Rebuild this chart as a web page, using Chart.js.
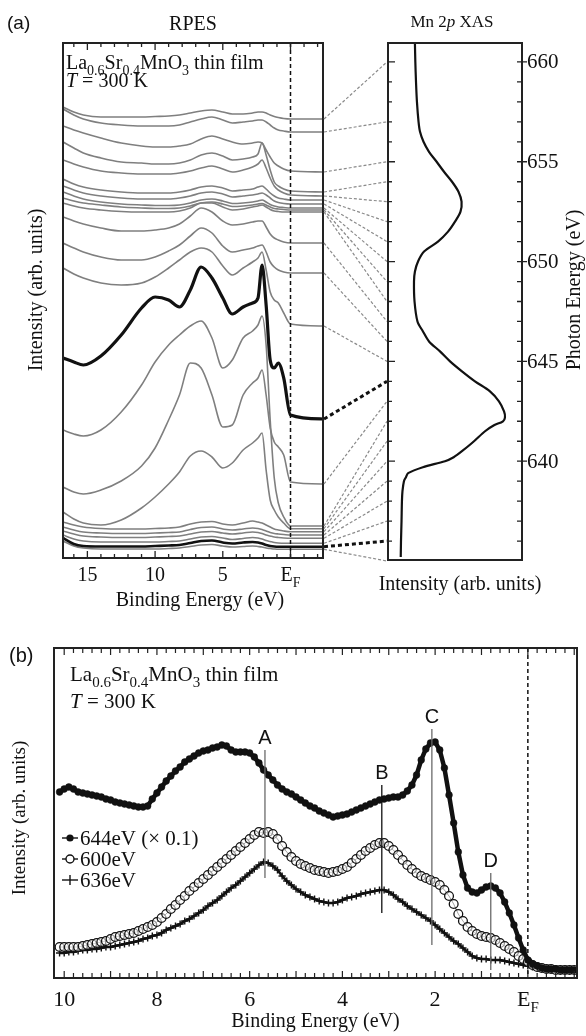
<!DOCTYPE html>
<html>
<head>
<meta charset="utf-8">
<script src="https://cdn.jsdelivr.net/npm/chart.js@4/dist/chart.umd.min.js"></script>
<style>
  html, body { margin: 0; padding: 0; background: #fff; }
  #wrap { position: relative; width: 586px; height: 1036px; }
  canvas { position: absolute; left: 0; }
</style>
</head>
<body>
<div id="wrap">
  <canvas id="rpes" width="586" height="620" style="top:0"></canvas>
  <canvas id="xas" width="586" height="620" style="top:0"></canvas>
  <canvas id="edc" width="586" height="416" style="top:620px"></canvas>
</div>
<script>
// ---------- (a) resonant photoemission spectra, stacked (arb. units) ----------
const bindingGrid = [16.8, 16, 15.3, 14, 12.5, 11, 10, 9, 8.2, 7.4, 6.6, 5.8, 5, 4.3, 3.5, 2.8, 2.4, 2.1, 1.8, 1.5, 1.2, 0.9, 0.5, 0, -2.4];

const rpes660 = [451,446,443,441,441,441,441.5,442,443,445,447,448,446,444,444,445,446,446,445,443,441.5,440.5,439.5,439,439];
const rpes657 = [449,443,439,435,433,432,432,432,433,436,439,441,438,435,436,437,438,438,436,433,430,428,427,426,426];
const rpes655 = [432,428,425,420,415,412,411,411,412,414,419,422,419,416,414,415,416,415,408,401,395,392,389,387,386];
const rpes654 = [416,410,405,400,396,395,394,394,395,398,403,405,402,398,399,401,404,415,403,388,376,372,369,367,366];
const rpes653 = [398,394,391,387,385,384,384,384,385,387,390,392,389,386,388,391,394,398,390,380,372,368,365,363,362];
const rpes652 = [379,374,371,368,366,365,365,365,366,368,371,372,370,367,368,369,371,372,369,365,362,360,359,358,358];
const rpes651 = [372,368,365,362,360,359,359,359,360,362,365,366,364,361,362,363,364,365,363,360,357,355.5,354.5,354,354];
const rpes650 = [366,362,359,356,354,353,352.5,352.5,353,355,358,359,357,354.5,355,356,357,358,356,353.5,352,351,350.5,350,350];
const rpes649 = [360,357,355,353,351,350,349.5,349.5,350,352,355,356,354,351.5,352,353,354,354.5,353,351,349.5,349,348.5,348,348];
const rpes648 = [355,352,350,348,346.5,346,346,346,347,350,355,355,351,348,349,351,352,353,351,348.5,347,346.5,346,346,346];
const rpes647 = [341,337,334,330,327,327,328,330,334,342,350,346,337,333,334,336,337,337,331,324,320,318,316,315,315];
const rpes646 = [315,310,306,301,298,298,301,307,313,322,330,325,312,306,308,310,312,313,306,296,291,288,286,285,285];
const rpes645 = [290,284,280,275,273,275,281,290,298,306,310,306,292,283,290,296,300,306,288,266,258,255,245,234,232];
const rpes644 = [200,196,193,202,223,250,261,258,251,268,291,280,260,244,251,255,260,293,253,198,190,195,180,143,139];
const rpes643 = [71,66,64,68,77,92,110,138,163,195,190,163,131,133,163,175,180,188,163,130,116,111,103,76,74];
const rpes642 = [128,124,122,128,146,173,196,213,223,232,237,220,190,198,220,227,233,242,213,138,80,55,41,32,32];
const rpes641 = [46,39,35,33,38,50,61,74,86,102,107,101,90,95,108,115,120,125,88,58,48,41,35,29.3,29.3];
const rpes640 = [36,33,31,29.5,29,29,29.5,30,31,34,36,36.5,34,33,35,37,36,35,33,31,29,28,27,26.3,26.3];
const rpes639 = [31,28,26,25,24.5,24.5,25,25.5,26,28.5,30.5,31,29,28,29,30,29.5,28.5,27,25.5,24.5,24,23.5,23,23];
const rpes638 = [27,24,22,21,20.5,20.5,21,21.5,22,24,26,26.5,25,24,25,26,25.5,24.5,23,22,21,20.5,20,19.7,19.7];
const rpes637 = [23,19,17,16,16,16,16,16.5,17,19,21,21.5,20,18.5,19.5,20.5,20,19,17.5,16.5,15.5,15,14.7,14.7,14.7];
const rpes636 = [20,14,12,11.5,11.5,11.5,12,12.5,13,15,17,17.5,15.5,14.5,15.5,16,15.5,14.5,13,12,11.5,11.3,11.3,11.3,11.3];
const rpes635 = [17,12,10,9,9,9,9,9.5,10,11.5,13,13.5,12,11,11.5,12,11.5,11,10,9.5,9,8.7,8.7,8.7,8.7];

const photonEnergies = [660, 657, 655, 654, 653, 652, 651, 650, 649, 648, 647, 646, 645, 644, 643, 642, 641, 640, 639, 638, 637, 636, 635];
const rpesSpectra = [rpes660, rpes657, rpes655, rpes654, rpes653, rpes652, rpes651, rpes650, rpes649, rpes648, rpes647, rpes646, rpes645, rpes644, rpes643, rpes642, rpes641, rpes640, rpes639, rpes638, rpes637, rpes636, rpes635];
const highlighted = [644, 636];
const rpesTicks = [15, 10, 5];

// ---------- (a) Mn 2p absorption ----------
const xasEnergy = [660.9, 660, 659, 658, 657, 656.5, 656, 655.5, 655, 654.5, 654, 653.5, 653, 652.5, 652, 651.5, 651, 650.5, 650, 649.5, 649, 648, 647, 646.5, 646, 645.5, 645, 644.5, 644, 643.5, 643, 642.5, 642.2, 642, 641.8, 641.5, 641, 640.5, 640.2, 640, 639.7, 639.4, 639.2, 639, 638.5, 638, 637, 636, 635.2];
const xasIntensity = [20.1, 20.4, 20.9, 21.6, 22.8, 23.9, 26.5, 30.6, 36.3, 41.8, 47.8, 52.6, 54.9, 54.1, 50, 44.8, 37.3, 26.9, 22.4, 20.1, 19.4, 19.8, 22, 26.1, 30.6, 38.8, 46.3, 55.2, 64.9, 76.1, 82.8, 86.6, 87.3, 85.8, 79.1, 72.4, 64.2, 55.2, 49, 42.5, 26, 15, 13.4, 11.9, 10.8, 10.4, 10.1, 9.7, 9.5];
const xasTicks = [640, 645, 650, 655, 660];

// ---------- (b) valence-band spectra at three photon energies ----------
const edcEnergy = [10.1,10.0,9.9,9.8,9.7,9.6,9.5,9.4,9.3,9.2,9.1,9.0,8.9,8.8,8.7,8.6,8.5,8.4,8.3,8.2,8.1,8.0,7.9,7.8,7.7,7.6,7.5,7.4,7.3,7.2,7.1,7.0,6.9,6.8,6.7,6.6,6.5,6.4,6.3,6.2,6.1,6.0,5.9,5.8,5.7,5.6,5.5,5.4,5.3,5.2,5.1,5.0,4.9,4.8,4.7,4.6,4.5,4.4,4.3,4.2,4.1,4.0,3.9,3.8,3.7,3.6,3.5,3.4,3.3,3.2,3.1,3.0,2.9,2.8,2.7,2.6,2.5,2.4,2.3,2.2,2.1,2.0,1.9,1.8,1.7,1.6,1.5,1.4,1.3,1.2,1.1,1.0,0.9,0.8,0.7,0.6,0.5,0.4,0.3,0.2,0.1,0.0,-0.1,-0.2,-0.3,-0.4,-0.5,-0.6,-0.7,-0.8,-0.9,-1.0];
const edc644 = [186,189,191,189,186,185,184,183,182,181,179,178,176,175,174,173,172,171,171,172,179,185,191,197,202,207,211,216,219,222,225,227,228,230,231,233,232,228,226,226,226,225,221,215,208,203,198,193,189,186,184,181,178,175,172,170,167,165,163,161,162,163,164,166,168,170,172,174,176,178,179,180,181,181,183,187,193,203,218,229,235,236,228,210,183,155,126,103,90,86,85,88,91,92,90,85,76,65,53,40,28,18,14,12,10,9,9,9,8,8,8,8];
const edc600 = [31,31,31,31,31,32,33,34,35,36,37,39,41,42,43,44,45,47,49,51,53,56,60,64,69,73,78,82,87,91,95,99,103,107,111,115,119,123,127,131,135,139,143,146,145,146,144,139,132,126,121,117,114,112,110,108,107,106,105,106,107,109,111,115,119,123,127,130,133,135,135,132,128,123,118,113,109,105,102,100,98,96,93,88,82,74,64,57,51,47,44,42,41,40,38,35,32,29,26,22,19,16,13,11,10,9,9,8,8,8,8,8];
const edc636 = [25,25,26,26,27,28,28,29,29,30,31,31,32,33,34,35,36,37,39,40,42,43,45,48,50,52,54,57,59,62,65,68,72,75,78,82,86,90,93,97,101,105,109,113,116,115,112,108,102,97,93,89,86,83,81,79,77,76,75,75,76,78,80,81,82,84,85,86,87,88,88,86,83,79,76,72,69,66,63,60,57,53,49,45,41,37,34,30,26,22,20,19,19,18,18,18,17,16,15,14,13,12,11,10,10,9,9,9,8,8,8,8];
const edcTicks = [10, 8, 6, 4, 2];
const featureNames = ['A', 'B', 'C', 'D'];
const featureEnergies = [5.67, 3.15, 2.07, 0.80];
const featureLow = [100, 65, 33, 8];
const featureHigh = [228, 193, 249, 105];
const featureColors = ['#6a6a6a', '#111', '#6a6a6a', '#6a6a6a'];
const legendLabels = ['644eV (\u00d7 0.1)', '600eV', '636eV'];

// ---------- drawing helpers ----------
const SERIF = '"Liberation Serif", "Times New Roman", serif';
const SANS = '"Liberation Sans", Arial, sans-serif';
const INK = '#111';
const GREY = '#7f7f7f';

function richText(ctx, parts, x, y, size, align) {
  const segs = parts.map(([t, k]) => {
    const sz = k === 's' ? Math.round(size * 0.7) : size;
    const font = (k === 'i' ? 'italic ' : '') + sz + 'px ' + SERIF;
    ctx.font = font;
    return { t, font, w: ctx.measureText(t).width, dy: k === 's' ? size * 0.28 : 0 };
  });
  const total = segs.reduce((s, g) => s + g.w, 0);
  let cx = align === 'center' ? x - total / 2 : x;
  ctx.textAlign = 'left';
  ctx.textBaseline = 'alphabetic';
  for (const g of segs) {
    ctx.font = g.font;
    ctx.fillText(g.t, cx, y + g.dy);
    cx += g.w;
  }
}

function rotatedText(ctx, str, x, y, font) {
  ctx.save();
  ctx.translate(x, y);
  ctx.rotate(-Math.PI / 2);
  ctx.font = font;
  ctx.textAlign = 'center';
  ctx.textBaseline = 'middle';
  ctx.fillText(str, 0, 0);
  ctx.restore();
}

const sampleParts = [['La', 'n'], ['0.6', 's'], ['Sr', 'n'], ['0.4', 's'], ['MnO', 'n'], ['3', 's'], [' thin film', 'n']];
const tempParts = [['T', 'i'], [' = 300 K', 'n']];
const fermiParts = [['E', 'n'], ['F', 's']];

// ---------- (a) left: RPES frame, ticks and labels ----------
const rpesFrame = {
  id: 'rpesFrame',
  afterDatasetsDraw(chart) {
    const { ctx, chartArea: a, scales: { x } } = chart;
    ctx.save();
    const xf = x.getPixelForValue(0);
    ctx.strokeStyle = INK;
    ctx.lineWidth = 1.5;
    ctx.setLineDash([4, 3]);
    ctx.beginPath(); ctx.moveTo(xf, a.top); ctx.lineTo(xf, a.bottom); ctx.stroke();
    ctx.setLineDash([]);
    ctx.strokeStyle = '#222';
    ctx.lineWidth = 2;
    ctx.strokeRect(a.left, a.top, a.right - a.left, a.bottom - a.top);
    ctx.lineWidth = 1.3;
    for (let e = -2; e <= 16; e++) {
      const px = x.getPixelForValue(e);
      const len = e % 5 === 0 ? 7 : 4;
      ctx.beginPath();
      ctx.moveTo(px, a.bottom); ctx.lineTo(px, a.bottom - len);
      ctx.moveTo(px, a.top); ctx.lineTo(px, a.top + len);
      ctx.stroke();
    }
    ctx.fillStyle = INK;
    ctx.font = '20px ' + SERIF;
    ctx.textAlign = 'center';
    ctx.textBaseline = 'alphabetic';
    for (const t of rpesTicks) ctx.fillText(String(t), x.getPixelForValue(t), a.bottom + 23);
    richText(ctx, fermiParts, xf, a.bottom + 23, 20, 'center');
    ctx.font = '20px ' + SERIF;
    ctx.textAlign = 'center';
    ctx.fillText('Binding Energy (eV)', 200, 606);
    ctx.fillText('RPES', (a.left + a.right) / 2, 30);
    rotatedText(ctx, 'Intensity (arb. units)', 37, 290, '20px ' + SERIF);
    ctx.font = '19px ' + SANS;
    ctx.textAlign = 'left';
    ctx.fillText('(a)', 7, 29);
    richText(ctx, sampleParts, a.left + 3, 69, 20, 'left');
    richText(ctx, tempParts, a.left + 3, 87, 20, 'left');
    ctx.restore();
  }
};

const rpesSets = rpesSpectra.map((vals, i) => {
  const strong = highlighted.includes(photonEnergies[i]);
  return {
    label: photonEnergies[i] + ' eV',
    data: bindingGrid.map((e, j) => ({ x: e, y: vals[j] })),
    borderColor: strong ? INK : GREY,
    borderWidth: strong ? (photonEnergies[i] === 644 ? 3.2 : 2.6) : 1.6,
    pointRadius: 0,
    cubicInterpolationMode: 'monotone',
    order: strong ? 0 : 1
  };
});

const rpesChart = new Chart(document.getElementById('rpes'), {
  type: 'line',
  data: { datasets: rpesSets },
  options: {
    responsive: false, animation: false, events: [],
    layout: { padding: { left: 63, top: 43, right: 263, bottom: 62 } },
    scales: {
      x: { type: 'linear', reverse: true, min: -2.4, max: 16.8, display: false },
      y: { type: 'linear', min: 0, max: 515, display: false }
    },
    plugins: { legend: { display: false }, tooltip: { enabled: false } }
  },
  plugins: [rpesFrame]
});

// ---------- (a) right: XAS frame, connectors to the RPES traces ----------
const xasFrame = {
  id: 'xasFrame',
  afterDatasetsDraw(chart) {
    const { ctx, chartArea: a, scales: { y } } = chart;
    const ry = rpesChart.scales.y;
    const rArea = rpesChart.chartArea;
    ctx.save();
    // dashed guides from each spectrum to its photon energy
    photonEnergies.forEach((pe, i) => {
      const vals = rpesSpectra[i];
      const strong = highlighted.includes(pe);
      ctx.strokeStyle = strong ? INK : '#8a8a8a';
      ctx.lineWidth = strong ? 3 : 1.2;
      ctx.setLineDash(strong ? [4, 3] : [3, 2]);
      ctx.beginPath();
      ctx.moveTo(rArea.right + 1, ry.getPixelForValue(vals[vals.length - 1]));
      ctx.lineTo(a.left - 1, y.getPixelForValue(pe));
      ctx.stroke();
    });
    ctx.setLineDash([]);
    ctx.strokeStyle = '#222';
    ctx.lineWidth = 2;
    ctx.strokeRect(a.left, a.top, a.right - a.left, a.bottom - a.top);
    ctx.lineWidth = 1.3;
    for (let e = 636; e <= 660; e++) {
      const py = y.getPixelForValue(e);
      const major = e % 5 === 0;
      ctx.beginPath();
      ctx.moveTo(a.left, py); ctx.lineTo(a.left + (major ? 7 : 4), py);
      ctx.moveTo(a.right - 5, py); ctx.lineTo(a.right + (major ? 5 : 0), py);
      ctx.stroke();
    }
    ctx.fillStyle = INK;
    ctx.font = '21px ' + SERIF;
    ctx.textAlign = 'left';
    ctx.textBaseline = 'middle';
    for (const t of xasTicks) ctx.fillText(String(t), a.right + 5, y.getPixelForValue(t) + 1);
    ctx.textBaseline = 'alphabetic';
    ctx.textAlign = 'center';
    ctx.font = '20px ' + SERIF;
    ctx.fillText('Intensity (arb. units)', 460, 590);
    rotatedText(ctx, 'Photon Energy (eV)', 575, 290, '20px ' + SERIF);
    richText(ctx, [['Mn 2', 'n'], ['p', 'i'], [' XAS', 'n']], 452, 27, 17, 'center');
    ctx.restore();
  }
};

new Chart(document.getElementById('xas'), {
  type: 'scatter',
  data: {
    datasets: [{
      label: 'Mn 2p XAS',
      data: xasEnergy.map((e, i) => ({ x: xasIntensity[i], y: e })),
      showLine: true,
      borderColor: INK,
      borderWidth: 2.2,
      pointRadius: 0,
      tension: 0.3
    }]
  },
  options: {
    responsive: false, animation: false, events: [],
    layout: { padding: { left: 388, top: 43, right: 64, bottom: 60 } },
    scales: {
      x: { type: 'linear', min: 0, max: 100, display: false },
      y: { type: 'linear', min: 635.05, max: 660.95, display: false }
    },
    plugins: { legend: { display: false }, tooltip: { enabled: false } }
  },
  plugins: [xasFrame]
});

// ---------- (b) frame, feature markers and legend ----------
function legendMark(ctx, kind, cx, cy) {
  ctx.strokeStyle = INK;
  ctx.fillStyle = INK;
  ctx.lineWidth = 1.4;
  ctx.beginPath(); ctx.moveTo(cx - 8, cy); ctx.lineTo(cx + 8, cy); ctx.stroke();
  if (kind === 0) {
    ctx.beginPath(); ctx.arc(cx, cy, 3.6, 0, Math.PI * 2); ctx.fill();
  } else if (kind === 1) {
    ctx.fillStyle = '#fff';
    ctx.beginPath(); ctx.arc(cx, cy, 4, 0, Math.PI * 2); ctx.fill(); ctx.stroke();
  } else {
    ctx.beginPath(); ctx.moveTo(cx, cy - 5); ctx.lineTo(cx, cy + 5); ctx.stroke();
  }
}

const edcFrame = {
  id: 'edcFrame',
  afterDatasetsDraw(chart) {
    const { ctx, chartArea: a, scales: { x, y } } = chart;
    ctx.save();
    const xf = x.getPixelForValue(0);
    ctx.strokeStyle = INK;
    ctx.lineWidth = 1.5;
    ctx.setLineDash([4, 3]);
    ctx.beginPath(); ctx.moveTo(xf, a.top); ctx.lineTo(xf, a.bottom); ctx.stroke();
    ctx.setLineDash([]);
    // feature markers
    featureNames.forEach((name, i) => {
      const px = x.getPixelForValue(featureEnergies[i]);
      const top = y.getPixelForValue(featureHigh[i]);
      ctx.strokeStyle = featureColors[i];
      ctx.lineWidth = 1.3;
      ctx.beginPath(); ctx.moveTo(px, y.getPixelForValue(featureLow[i])); ctx.lineTo(px, top); ctx.stroke();
      ctx.fillStyle = INK;
      ctx.font = '20px ' + SANS;
      ctx.textAlign = 'center';
      ctx.textBaseline = 'alphabetic';
      ctx.fillText(name, px, top - 6);
    });
    ctx.strokeStyle = '#222';
    ctx.lineWidth = 2;
    ctx.strokeRect(a.left, a.top, a.right - a.left, a.bottom - a.top);
    ctx.lineWidth = 1.2;
    for (let k = -5; k <= 51; k++) {
      const e = k * 0.2;
      const px = x.getPixelForValue(e);
      if (px < a.left + 1 || px > a.right - 1) continue;
      const len = k % 5 === 0 ? 7 : 5;
      ctx.beginPath();
      ctx.moveTo(px, a.bottom); ctx.lineTo(px, a.bottom - len);
      ctx.moveTo(px, a.top); ctx.lineTo(px, a.top + len);
      ctx.stroke();
    }
    ctx.fillStyle = INK;
    ctx.font = '22px ' + SERIF;
    ctx.textAlign = 'center';
    for (const t of edcTicks) ctx.fillText(String(t), x.getPixelForValue(t), a.bottom + 28);
    richText(ctx, fermiParts, xf, a.bottom + 28, 22, 'center');
    ctx.font = '20px ' + SERIF;
    ctx.textAlign = 'center';
    ctx.fillText('Binding Energy (eV)', (a.left + a.right) / 2, 407);
    rotatedText(ctx, 'Intensity (arb. units)', 20, 198, '19px ' + SERIF);
    ctx.font = '20px ' + SANS;
    ctx.textAlign = 'left';
    ctx.fillText('(b)', 9, 42);
    richText(ctx, sampleParts, a.left + 16, 61, 21, 'left');
    richText(ctx, tempParts, a.left + 16, 88, 21, 'left');
    // legend
    legendLabels.forEach((lab, i) => {
      const cy = 218 + i * 21;
      legendMark(ctx, i, 70, cy);
      ctx.fillStyle = INK;
      ctx.font = '21px ' + SERIF;
      ctx.textAlign = 'left';
      ctx.textBaseline = 'middle';
      ctx.fillText(lab, 80, cy + 1);
    });
    ctx.restore();
  }
};

new Chart(document.getElementById('edc'), {
  type: 'line',
  data: {
    datasets: [
      {
        label: legendLabels[0],
        data: edcEnergy.map((e, i) => ({ x: e, y: edc644[i] })),
        showLine: true,
        borderColor: INK,
        borderWidth: 4.5,
        tension: 0,
        pointStyle: 'circle',
        pointRadius: 3.4,
        pointBackgroundColor: INK,
        pointBorderColor: INK,
        pointBorderWidth: 0.5,
        order: 0
      },
      {
        label: legendLabels[1],
        data: edcEnergy.map((e, i) => ({ x: e, y: edc600[i] })),
        showLine: true,
        borderColor: '#333',
        borderWidth: 1,
        tension: 0,
        pointStyle: 'circle',
        pointRadius: 4.4,
        pointBackgroundColor: 'rgba(255,255,255,0.55)',
        pointBorderColor: INK,
        pointBorderWidth: 1.3,
        order: 1
      },
      {
        label: legendLabels[2],
        data: edcEnergy.map((e, i) => ({ x: e, y: edc636[i] })),
        showLine: true,
        borderColor: INK,
        borderWidth: 2.6,
        pointStyle: 'cross',
        pointRadius: 3.6,
        pointBorderColor: INK,
        pointBorderWidth: 1.4,
        tension: 0,
        order: 2
      }
    ]
  },
  options: {
    responsive: false, animation: false, events: [],
    layout: { padding: { left: 54, top: 28, right: 9, bottom: 58 } },
    scales: {
      x: { type: 'linear', reverse: true, min: -1.06, max: 10.22, display: false },
      y: { type: 'linear', min: 0, max: 330, display: false }
    },
    plugins: { legend: { display: false }, tooltip: { enabled: false } }
  },
  plugins: [edcFrame]
});
</script>
</body>
</html>
